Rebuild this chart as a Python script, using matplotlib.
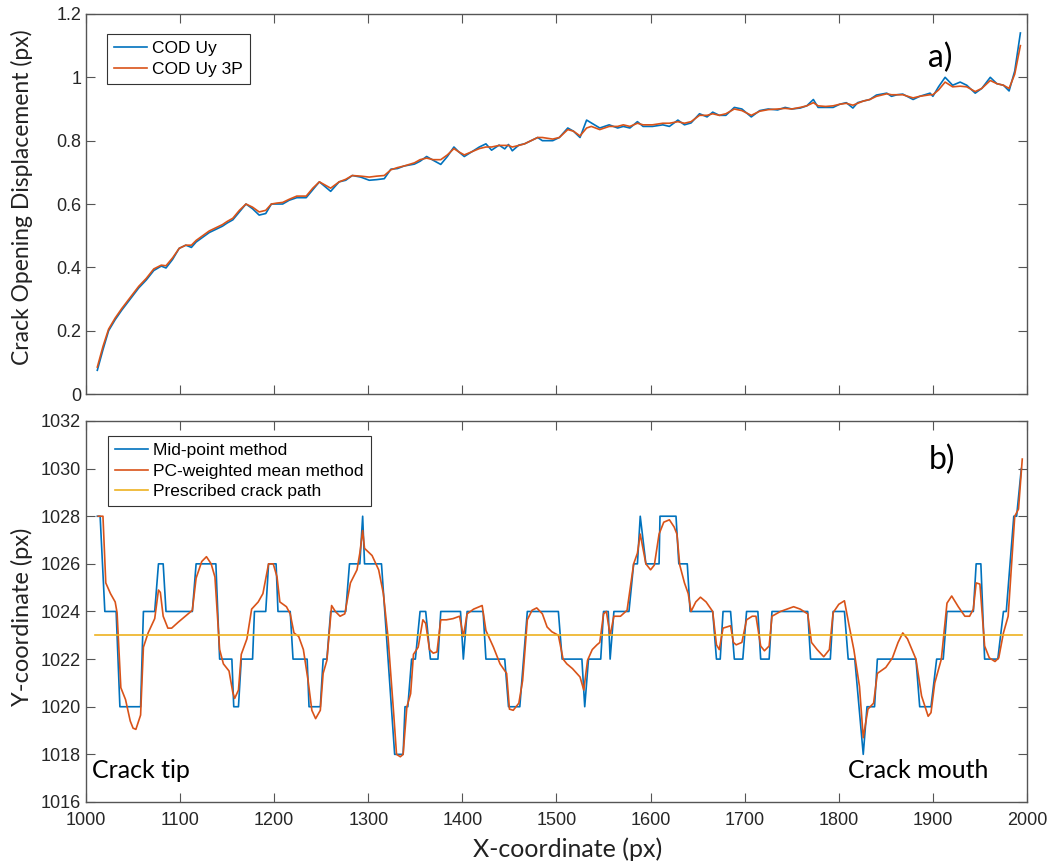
import matplotlib
matplotlib.use("Agg")
import matplotlib.pyplot as plt

# ---- a) crack opening displacement ----
cod_x = [1012, 1018, 1024, 1031, 1038, 1047, 1056, 1064, 1072, 1080, 1085, 1092, 1099, 1106, 1112,
         1117, 1124, 1131, 1138, 1145, 1150, 1156, 1163, 1170, 1177, 1184, 1191, 1197, 1203, 1209,
         1216, 1224, 1234, 1241, 1248, 1254, 1260, 1269, 1276, 1283, 1292, 1301, 1309, 1317, 1324,
         1331, 1338, 1349, 1355, 1362, 1369, 1377, 1384, 1391, 1396, 1402, 1410, 1418, 1425, 1431,
         1439, 1445, 1449, 1453, 1460, 1466, 1473, 1480, 1485, 1496, 1503, 1512, 1518, 1525, 1532,
         1537, 1546, 1556, 1565, 1571, 1578, 1586, 1592, 1602, 1613, 1620, 1629, 1636, 1643, 1652,
         1660, 1666, 1673, 1680, 1689, 1697, 1707, 1716, 1725, 1735, 1743, 1750, 1759, 1766, 1773,
         1778, 1786, 1794, 1801, 1808, 1815, 1820, 1826, 1833, 1840, 1851, 1856, 1862, 1868, 1879,
         1886, 1897, 1900, 1906, 1913, 1921, 1929, 1936, 1945, 1952, 1961, 1968, 1975, 1981, 1987,
         1993]
cod_uy = [0.075, 0.14, 0.20, 0.235, 0.265, 0.30, 0.335, 0.36, 0.39, 0.404, 0.398, 0.425, 0.46, 0.47, 0.463,
          0.48, 0.495, 0.51, 0.52, 0.53, 0.54, 0.55, 0.575, 0.60, 0.585, 0.565, 0.57, 0.60, 0.60, 0.60,
          0.612, 0.62, 0.62, 0.645, 0.67, 0.655, 0.64, 0.67, 0.675, 0.69, 0.685, 0.675, 0.677, 0.68, 0.71,
          0.712, 0.72, 0.726, 0.735, 0.75, 0.738, 0.725, 0.75, 0.78, 0.765, 0.75, 0.765, 0.78, 0.79, 0.77,
          0.786, 0.774, 0.788, 0.768, 0.786, 0.79, 0.80, 0.81, 0.80, 0.80, 0.81, 0.84, 0.83, 0.81, 0.865,
          0.856, 0.84, 0.85, 0.84, 0.845, 0.84, 0.86, 0.845, 0.845, 0.85, 0.845, 0.865, 0.85, 0.856, 0.885,
          0.875, 0.89, 0.88, 0.88, 0.905, 0.90, 0.875, 0.895, 0.90, 0.897, 0.905, 0.90, 0.903, 0.91, 0.93,
          0.905, 0.905, 0.905, 0.915, 0.92, 0.903, 0.92, 0.925, 0.93, 0.944, 0.95, 0.94, 0.945, 0.947, 0.93,
          0.94, 0.95, 0.94, 0.97, 1.00, 0.975, 0.985, 0.975, 0.95, 0.965, 1.00, 0.98, 0.975, 0.957, 1.02,
          1.14]
cod_uy_3p = [0.085, 0.15, 0.205, 0.24, 0.27, 0.305, 0.34, 0.365, 0.395, 0.407, 0.405, 0.43, 0.46, 0.47, 0.47,
             0.485, 0.50, 0.515, 0.525, 0.535, 0.545, 0.555, 0.58, 0.60, 0.59, 0.575, 0.58, 0.60, 0.603, 0.605,
             0.615, 0.625, 0.625, 0.65, 0.67, 0.66, 0.65, 0.67, 0.678, 0.69, 0.688, 0.685, 0.688, 0.69, 0.708,
             0.715, 0.72, 0.73, 0.74, 0.745, 0.74, 0.74, 0.755, 0.775, 0.765, 0.755, 0.765, 0.775, 0.78, 0.78,
             0.785, 0.785, 0.785, 0.78, 0.785, 0.79, 0.80, 0.81, 0.81, 0.805, 0.81, 0.835, 0.83, 0.815, 0.84,
             0.845, 0.835, 0.845, 0.845, 0.85, 0.845, 0.855, 0.85, 0.85, 0.855, 0.855, 0.86, 0.855, 0.86, 0.88,
             0.88, 0.885, 0.88, 0.885, 0.90, 0.895, 0.88, 0.893, 0.898, 0.90, 0.902, 0.90, 0.905, 0.91, 0.92,
             0.91, 0.908, 0.91, 0.915, 0.918, 0.912, 0.918, 0.925, 0.93, 0.94, 0.948, 0.945, 0.945, 0.945, 0.935,
             0.94, 0.945, 0.945, 0.96, 0.985, 0.97, 0.972, 0.97, 0.955, 0.965, 0.99, 0.98, 0.975, 0.965, 1.01,
             1.10]

# ---- b) crack path ----
mid_x = [1012, 1015, 1020, 1032, 1036, 1058, 1061, 1073, 1077, 1082, 1085, 1113, 1117, 1138, 1142,
         1155, 1157, 1162, 1165, 1177, 1179, 1191, 1194, 1202, 1204, 1217, 1220, 1235, 1237, 1249,
         1252, 1256, 1260, 1276, 1280, 1291, 1294, 1296, 1314, 1328, 1337, 1339, 1342, 1346, 1350,
         1355, 1361, 1366, 1374, 1377, 1398, 1401, 1405, 1422, 1425, 1445, 1449, 1461, 1469, 1502,
         1506, 1527, 1530, 1534, 1547, 1550, 1555, 1557, 1561, 1577, 1582, 1586, 1589, 1595, 1609,
         1610, 1627, 1630, 1639, 1642, 1666, 1670, 1674, 1677, 1685, 1689, 1698, 1702, 1714, 1717,
         1726, 1729, 1767, 1770, 1791, 1794, 1806, 1810, 1817, 1826, 1830, 1838, 1841, 1882, 1886,
         1898, 1904, 1911, 1915, 1943, 1946, 1951, 1955, 1969, 1975, 1978, 1986, 1989, 1994]
mid_y = [1028, 1028, 1024, 1024, 1020, 1020, 1024, 1024, 1026, 1026, 1024, 1024, 1026, 1026, 1022,
         1022, 1020, 1020, 1022, 1022, 1024, 1024, 1026, 1026, 1024, 1024, 1022, 1022, 1020, 1020,
         1022, 1022, 1024, 1024, 1026, 1026, 1028, 1026, 1026, 1018, 1018, 1020, 1020, 1022, 1022,
         1024, 1024, 1022, 1022, 1024, 1024, 1022, 1024, 1024, 1022, 1022, 1020, 1020, 1024, 1024,
         1022, 1022, 1020, 1022, 1022, 1024, 1024, 1022, 1024, 1024, 1026, 1026, 1028, 1026, 1026,
         1028, 1028, 1026, 1026, 1024, 1024, 1022, 1022, 1024, 1024, 1022, 1022, 1024, 1024, 1022,
         1022, 1024, 1024, 1022, 1022, 1024, 1024, 1022, 1022, 1018, 1020, 1020, 1022, 1022, 1020,
         1020, 1022, 1022, 1024, 1024, 1026, 1026, 1022, 1022, 1024, 1024, 1028, 1028, 1030]

pc_x = [1013, 1018, 1021, 1026, 1031, 1033, 1037, 1042, 1047, 1050, 1053, 1058, 1061, 1066, 1073,
        1077, 1079, 1082, 1087, 1091, 1098, 1107, 1113, 1117, 1123, 1128, 1133, 1137, 1142, 1146,
        1152, 1156, 1158, 1162, 1165, 1171, 1176, 1183, 1188, 1194, 1199, 1203, 1206, 1213, 1217,
        1221, 1226, 1231, 1236, 1240, 1244, 1249, 1252, 1256, 1261, 1265, 1270, 1275, 1281, 1288,
        1291, 1294, 1296, 1304, 1311, 1316, 1321, 1327, 1330, 1334, 1337, 1341, 1345, 1348, 1353,
        1358, 1361, 1365, 1369, 1373, 1377, 1383, 1390, 1397, 1401, 1405, 1412, 1421, 1425, 1433,
        1440, 1447, 1450, 1454, 1460, 1464, 1469, 1474, 1479, 1485, 1490, 1495, 1502, 1507, 1511,
        1517, 1525, 1529, 1533, 1538, 1543, 1546, 1550, 1553, 1557, 1561, 1568, 1575, 1582, 1586,
        1589, 1595, 1600, 1604, 1609, 1614, 1620, 1625, 1628, 1631, 1636, 1640, 1643, 1648, 1653,
        1659, 1666, 1670, 1673, 1677, 1685, 1688, 1691, 1697, 1702, 1708, 1712, 1717, 1721, 1726,
        1729, 1738, 1752, 1759, 1767, 1771, 1777, 1784, 1790, 1794, 1800, 1806, 1811, 1816, 1822,
        1826, 1831, 1837, 1841, 1850, 1857, 1863, 1868, 1873, 1882, 1888, 1895, 1898, 1902, 1909,
        1915, 1920, 1927, 1934, 1939, 1943, 1946, 1950, 1955, 1960, 1966, 1970, 1975, 1980, 1987,
        1991, 1995]
pc_y = [1028.0, 1028.0, 1025.2, 1024.75, 1024.4, 1023.95, 1020.8, 1020.3, 1019.4, 1019.1, 1019.05, 1019.65, 1022.5, 1023.1, 1023.7,
        1024.9, 1024.8, 1023.8, 1023.3, 1023.3, 1023.55, 1023.85, 1024.05, 1025.4, 1026.1, 1026.3, 1026.0, 1025.45, 1022.4, 1021.8,
        1021.5, 1020.6, 1020.35, 1020.7, 1022.2, 1022.85, 1024.1, 1024.4, 1024.75, 1026.0, 1026.0, 1025.45, 1024.4, 1024.2, 1023.9,
        1023.1, 1022.95, 1022.4, 1021.1, 1019.85, 1019.5, 1019.85, 1021.4, 1021.95, 1024.25, 1024.0, 1023.8, 1023.9, 1025.2, 1025.75,
        1026.45, 1027.4, 1026.65, 1026.35, 1025.75, 1024.75, 1022.9, 1019.7, 1018.0, 1017.9, 1018.0, 1020.0, 1020.55, 1022.2, 1022.5,
        1023.65, 1023.5, 1022.4, 1022.25, 1022.3, 1023.65, 1023.65, 1023.7, 1023.8, 1022.95, 1023.9, 1024.1, 1024.25, 1023.2, 1022.5,
        1021.8, 1021.4, 1019.9, 1019.85, 1020.15, 1021.1, 1023.65, 1024.05, 1024.15, 1023.9, 1023.35, 1023.15, 1023.0, 1022.0, 1021.8,
        1021.6, 1021.25, 1020.7, 1021.95, 1022.4, 1022.6, 1022.7, 1023.9, 1024.0, 1023.0, 1023.8, 1023.8, 1024.05, 1026.0, 1026.45,
        1027.25, 1026.0, 1025.75, 1025.95, 1027.25, 1027.75, 1027.85, 1027.55, 1027.25, 1025.95, 1025.2, 1024.75, 1024.0, 1024.4, 1024.6,
        1024.4, 1024.0, 1022.6, 1022.4, 1023.3, 1023.4, 1022.7, 1022.6, 1022.7, 1023.65, 1023.8, 1023.8, 1022.55, 1022.35, 1022.55,
        1023.8, 1024.0, 1024.2, 1024.1, 1023.9, 1022.7, 1022.4, 1022.1, 1022.4, 1023.95, 1024.3, 1024.45, 1023.4, 1022.4, 1020.85,
        1018.7, 1019.9, 1020.15, 1021.4, 1021.65, 1022.05, 1022.7, 1023.1, 1022.85, 1022.0, 1020.45, 1019.6, 1019.75, 1021.0, 1022.0,
        1024.35, 1024.65, 1024.2, 1023.8, 1023.8, 1024.1, 1025.2, 1025.15, 1022.55, 1022.05, 1021.9, 1022.05, 1023.1, 1023.8, 1028.0,
        1028.3, 1030.4]

path_x = [1010, 1995]
path_y = [1023, 1023]

BLUE = '#0072BD'
ORANGE = '#D95319'
YELLOW = '#EDB120'
AXC = '#555555'
TICKFONT = 'Liberation Sans'
NOTEFONT = 'Lato'

plt.rcParams['font.family'] = TICKFONT

fig = plt.figure(figsize=(10.49, 8.63), dpi=100)
ax1 = fig.add_axes([0.082, 0.5434, 0.897, 0.4404])
ax2 = fig.add_axes([0.082, 0.0707, 0.897, 0.4415])


def style(ax):
    ax.set_xlim(1000, 2000)
    ax.set_xticks(range(1000, 2001, 100))
    ax.tick_params(direction='in', length=6.5, width=0.8, color=AXC,
                   top=True, right=True, labelsize=13, labelcolor='#262626')
    ax.tick_params(axis='x', pad=7)
    for s in ax.spines.values():
        s.set_color(AXC)
        s.set_linewidth(1.0)


lw = 1.2
legkw = dict(loc='upper left', borderaxespad=0, fontsize=12.5, fancybox=False,
             edgecolor='#333333', framealpha=1, handlelength=1.9, handletextpad=0.3,
             labelspacing=0.32, borderpad=0.4)

ax1.plot(cod_x, cod_uy, color=BLUE, lw=lw, label='COD Uy')
ax1.plot(cod_x, cod_uy_3p, color=ORANGE, lw=lw, label='COD Uy 3P')
style(ax1)
ax1.set_ylim(0, 1.2)
ax1.set_yticks([0, 0.2, 0.4, 0.6, 0.8, 1, 1.2])
ax1.set_yticklabels(['0', '0.2', '0.4', '0.6', '0.8', '1', '1.2'])
ax1.tick_params(labelbottom=False)
leg1 = ax1.legend(bbox_to_anchor=(0.0223, 0.947), **legkw)
leg1.get_frame().set_linewidth(0.8)
ax1.text(0.9075, 0.884, 'a)', transform=ax1.transAxes, fontsize=23,
         family=NOTEFONT, ha='center', va='center')

ax2.plot(mid_x, mid_y, color=BLUE, lw=lw, label='Mid-point method')
ax2.plot(pc_x, pc_y, color=ORANGE, lw=lw, label='PC-weighted mean method')
ax2.plot(path_x, path_y, color=YELLOW, lw=lw, label='Prescribed crack path')
style(ax2)
ax2.set_ylim(1016, 1032)
ax2.set_yticks(range(1016, 1033, 2))
leg2 = ax2.legend(bbox_to_anchor=(0.0234, 0.961), **legkw)
leg2.get_frame().set_linewidth(0.8)
ax2.text(0.91, 0.898, 'b)', transform=ax2.transAxes, fontsize=23,
         family=NOTEFONT, ha='center', va='center')
ax2.text(0.0064, 0.063, 'Crack tip', transform=ax2.transAxes, fontsize=18,
         family=NOTEFONT, ha='left', va='baseline')
ax2.text(0.81, 0.063, 'Crack mouth', transform=ax2.transAxes, fontsize=18,
         family=NOTEFONT, ha='left', va='baseline')

fig.text(0.5415, 0.016, 'X-coordinate (px)', fontsize=18, family=NOTEFONT,
         ha='center', va='center', color='#222222')
fig.text(0.021, 0.772, 'Crack Opening Displacement (px)', fontsize=16.5, family=NOTEFONT,
         rotation=90, ha='center', va='center', color='#222222')
fig.text(0.021, 0.285, 'Y-coordinate (px)', fontsize=17, family=NOTEFONT,
         rotation=90, ha='center', va='center', color='#222222')

fig.savefig('out.png', dpi=100)
